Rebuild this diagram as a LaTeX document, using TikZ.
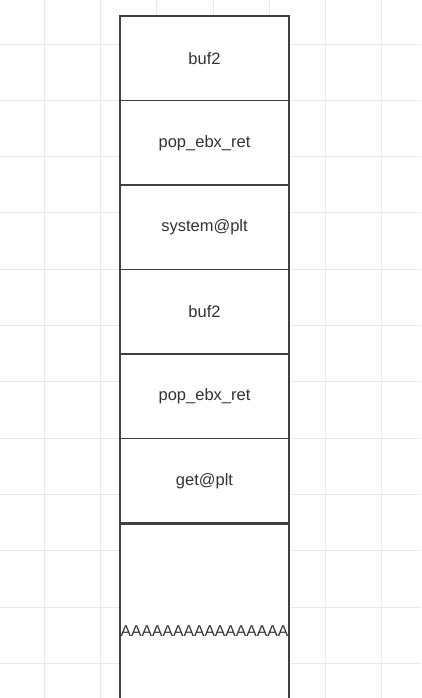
\documentclass[tikz,border=0pt]{standalone}
\usepackage{fontspec}
\setmainfont{Liberation Sans}
\usetikzlibrary{positioning}

\tikzset{
  slot/.style={rectangle, draw=black!75, line width=1.1pt, fill=white, minimum width=169pt, minimum height=84.5pt, inner sep=0pt, text=black!80, font=\fontsize{16.5}{19}\selectfont},
  gridline/.style={draw=black!8, line width=0.8pt}
}

\begin{document}
\begin{tikzpicture}[node distance=84.5pt, on grid]
			\clip (0,0) rectangle (421pt,698pt);
			\fill[white] (0,0) rectangle (421pt,698pt);
			% background grid
			\foreach \i in {0,...,6}
				\draw[gridline] (44pt+\i*56.3pt,0) -- ++(0,698pt);
			\foreach \i in {0,...,11}
				\draw[gridline] (0,654pt-\i*56.3pt) -- ++(421pt,0);
			
			\node[slot] (b0) at (204.5pt,639.75pt) {buf2};
			\node[slot, below of=b0] (b1) {pop\_ebx\_ret};
			\node[slot, below of=b1] (b2) {system@plt};
			\node[slot, below of=b2] (b3) {buf2};
			\node[slot, below of=b3] (b4) {pop\_ebx\_ret};
			\node[slot, below of=b4] (b5) {get@plt};
			\node[slot, anchor=north, minimum height=214pt, font=\fontsize{15.7}{19}\selectfont] (b6) at (b5.south) {AAAAAAAAAAAAAAAA};
			
		\end{tikzpicture}
\end{document}
